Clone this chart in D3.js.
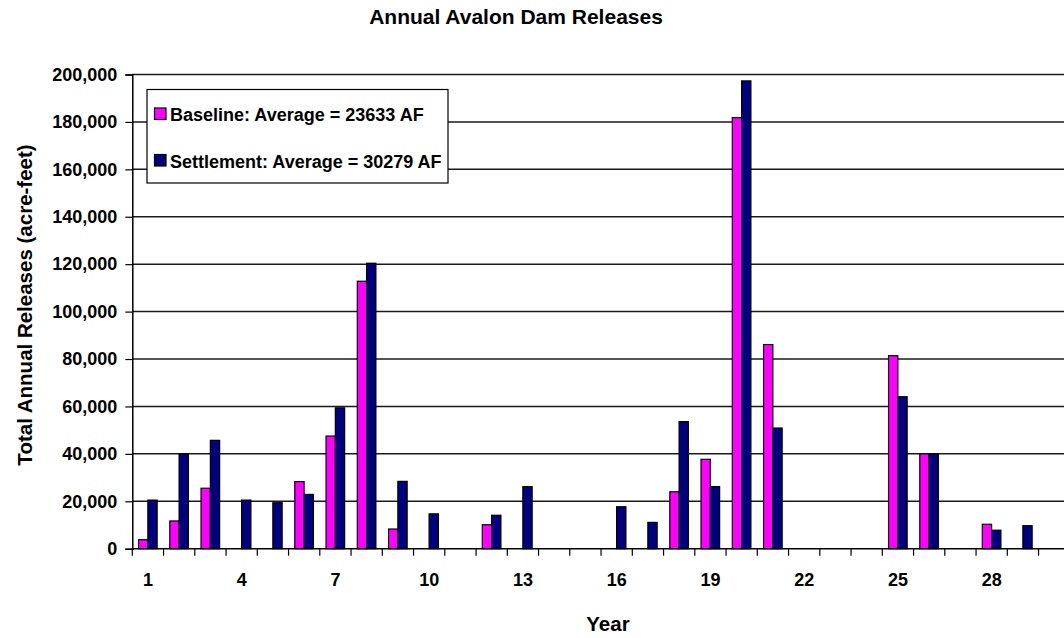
<!DOCTYPE html>
<html>
<head>
<meta charset="utf-8">
<script src="https://cdn.jsdelivr.net/npm/d3@7"></script>
<style>
  html, body { margin: 0; padding: 0; background: #fff; }
  svg { display: block; font-family: "Liberation Sans", Arial, sans-serif; font-weight: bold; }
</style>
</head>
<body>
<svg id="chart" width="1064" height="638"></svg>
<script>
// Annual release volumes (acre-feet) per simulation year
const years = d3.range(1, 31);
const baseline = [3800, 11700, 25500, 0, 0, 28300, 47500, 112800, 8300, 0,
                  0, 10100, 0, 0, 0, 0, 0, 24000, 37700, 181800,
                  86100, 0, 0, 0, 81400, 40000, 0, 10300, 0, 0];
const settlement = [20500, 40000, 45700, 20500, 19400, 22900, 59400, 120400, 28400, 14700,
                    0, 14100, 26200, 0, 0, 17700, 11100, 53600, 26200, 197300,
                    50900, 0, 0, 0, 64100, 40000, 0, 7800, 9700, 0];
const seriesNames = ["Baseline", "Settlement"];
const seriesColors = ["#ff00ff", "#000080"];
const legendLabels = ["Baseline: Average = 23633 AF", "Settlement: Average = 30279 AF"];
const yTicks = [0, 20000, 40000, 60000, 80000, 100000, 120000, 140000, 160000, 180000, 200000];
const xLabelYears = [1, 4, 7, 10, 13, 16, 19, 22, 25, 28];

const svg = d3.select("#chart");
const plot = { left: 132.3, top: 74.5, bottom: 548.7, right: 132.3 + 30 * 31.25 };

const x = d3.scaleBand().domain(years).range([plot.left, plot.right]).padding(0);
const xs = d3.scaleBand().domain(seriesNames)
  .range([x.bandwidth() * 0.2, x.bandwidth() * 0.795]);
const y = d3.scaleLinear().domain([0, 200000]).range([plot.bottom, plot.top]);

// Title
svg.append("text").attr("x", 516).attr("y", 24).attr("text-anchor", "middle")
  .style("font-size", "21px").text("Annual Avalon Dam Releases");

// Horizontal gridlines
svg.append("g").selectAll("line").data(yTicks.filter(d => d > 0)).join("line")
  .attr("x1", plot.left).attr("x2", plot.right)
  .attr("y1", d => y(d)).attr("y2", d => y(d))
  .attr("stroke", "#1a1a1a").attr("stroke-width", 1.5);

// Bars
const rows = years.map((yr, i) => ({ year: yr, values: [baseline[i], settlement[i]] }));
const groups = svg.append("g").selectAll("g").data(rows).join("g")
  .attr("transform", d => `translate(${x(d.year)},0)`);
groups.selectAll("rect")
  .data(d => d.values.map((v, k) => ({ name: seriesNames[k], value: v, color: seriesColors[k] }))
    .filter(e => e.value > 0))
  .join("rect")
  .attr("x", d => xs(d.name))
  .attr("width", xs.bandwidth())
  .attr("y", d => y(d.value))
  .attr("height", d => y(0) - y(d.value))
  .attr("fill", d => d.color)
  .attr("stroke", "#000").attr("stroke-width", 1.2);

// Y axis
const yAxis = d3.axisLeft(y).tickValues(yTicks).tickFormat(d3.format(",")).tickSize(7).tickPadding(8);
const gy = svg.append("g").attr("transform", `translate(${plot.left},0)`).call(yAxis);
gy.select(".domain").attr("stroke", "#000").attr("stroke-width", 1.5);
gy.selectAll(".tick line").attr("stroke", "#000").attr("stroke-width", 1.2);
gy.selectAll(".tick text").style("font-size", "18px").style("font-family", "Liberation Sans, Arial, sans-serif")
  .style("font-weight", "bold").attr("fill", "#000");

// X axis line and tick marks at category boundaries
svg.append("line").attr("x1", plot.left).attr("x2", plot.right)
  .attr("y1", y(0)).attr("y2", y(0)).attr("stroke", "#000").attr("stroke-width", 1.5);
svg.append("g").selectAll("line").data(years).join("line")
  .attr("x1", d => x(d)).attr("x2", d => x(d))
  .attr("y1", y(0)).attr("y2", y(0) + 7)
  .attr("stroke", "#000").attr("stroke-width", 1.2);
svg.append("g").selectAll("text").data(xLabelYears).join("text")
  .attr("x", d => x(d) + x.bandwidth() / 2).attr("y", 586)
  .attr("text-anchor", "middle").style("font-size", "18px").text(d => d);

// Axis titles
svg.append("text").attr("x", 608).attr("y", 631).attr("text-anchor", "middle")
  .style("font-size", "20.5px").text("Year");
svg.append("text").attr("transform", "translate(31.5,305) rotate(-90)")
  .attr("text-anchor", "middle").style("font-size", "20.5px")
  .text("Total Annual Releases (acre-feet)");

// Legend
const legend = svg.append("g");
legend.append("rect").attr("x", 147).attr("y", 89.5).attr("width", 301).attr("height", 93.5)
  .attr("fill", "#fff").attr("stroke", "#000").attr("stroke-width", 1.2);
const items = legend.selectAll("g").data(legendLabels).join("g")
  .attr("transform", (d, i) => `translate(154.5,${108 + i * 46.5})`);
items.append("rect").attr("width", 11.5).attr("height", 11.5)
  .attr("fill", (d, i) => seriesColors[i]).attr("stroke", "#000").attr("stroke-width", 1.2);
items.append("text").attr("x", 15.5).attr("y", 13).style("font-size", "18px").text(d => d);
</script>
</body>
</html>
